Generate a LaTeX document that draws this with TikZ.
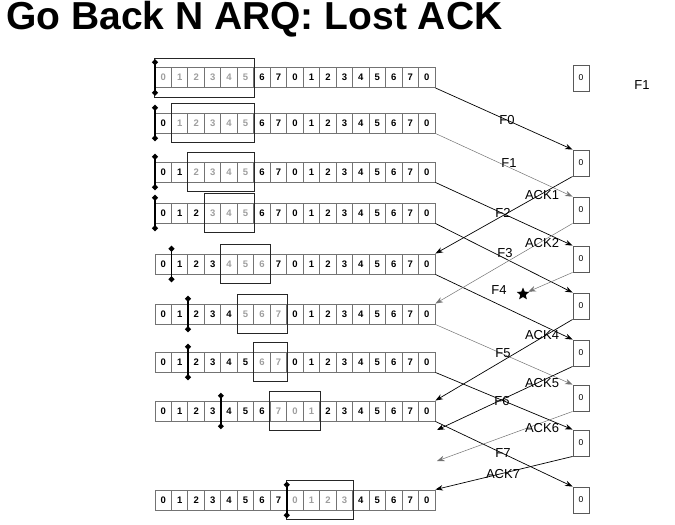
\documentclass[tikz,border=0pt]{standalone}
\usepackage{fontspec}
\setmainfont{Liberation Sans}
\usetikzlibrary{arrows.meta,positioning,shapes.geometric}

\begin{document}
\begin{tikzpicture}[x=1pt, y=-1pt,
  cell/.style={draw=black!55, line width=0.9pt, minimum width=16.47pt, minimum height=20pt, inner sep=0pt, font=\bfseries\fontsize{9.5}{10}\selectfont},
  rbox/.style={draw=black!65, line width=0.9pt, minimum width=16pt, minimum height=26pt, inner sep=0pt, font=\fontsize{8.5}{9}\selectfont},
  win/.style={draw=black!85, line width=0.7pt},
  bar/.style={{Circle[length=5.5pt]}-{Circle[length=5.5pt]}, line width=1.6pt},
  frame/.style={-{Stealth[length=7.5pt,width=5.5pt]}, line width=0.7pt},
  lite/.style={draw=black!55, line width=0.5pt},
  lbl/.style={font=\fontsize{13}{15}\selectfont, inner sep=0pt}
]
  \useasboundingbox (0,0) rectangle (675,525);

  % title
  \node[anchor=west, inner sep=0pt, font=\bfseries\fontsize{39}{41}\selectfont] (title) at (6,19) {Go Back N ARQ: Lost ACK};

  % sender rows: row / y / window from / window to / bar position
  \foreach \r/\y/\lo/\hi/\b in {1/77.5/0/5/0, 2/123/1/5/0, 3/172/2/5/0, 4/213/3/5/0, 5/264/4/6/1, 6/314/5/7/2, 7/362/6/7/2, 8/411/7/9/4, 10/500/8/11/8}{
    \foreach \i in {0,...,16}{
      \pgfmathtruncatemacro\d{mod(\i,8)}
      \def\tc{black}
      \ifnum\i<\lo\else\ifnum\i>\hi\else\def\tc{black!38}\fi\fi
      \node[cell, text=\tc] (r\r-\i) at ({163.24+16.47*\i}, \y) {\d};
    }
    \draw[win] ([yshift=9pt]r\r-\lo.north west) rectangle ([yshift=-9pt]r\r-\hi.south east);
    \coordinate (bar\r) at ({155+16.47*\b}, \y);
    \draw[bar] ([yshift=18pt]bar\r) -- ([yshift=-18pt]bar\r);
  }

  % receiver
  \foreach \k/\y in {1/78, 2/163, 3/210, 4/259, 5/306, 6/353, 7/398, 8/443, 9/500}
    \node[rbox] (s\k) at (581,\y) {0};

  \coordinate (a5end) at (437,430);
  \coordinate (a6end) at (437,461);
  \node[star, star points=5, star point ratio=2.2, fill=black, minimum size=13pt, inner sep=0pt] (lost) at (523,294) {};

  % frames
  \draw[frame] (r1-16.south east) -- (s2.north west);
  \draw[frame, lite] (r2-16.south east) -- (s3.north west);
  \draw[frame] (r3-16.south east) -- (s4.north west);
  \draw[frame] (r4-16.south east) -- (s5.north west);
  \draw[frame] (r5-16.south east) -- (s6.north west);
  \draw[frame, lite] (r6-16.south east) -- (s7.north west);
  \draw[frame] (r7-16.south east) -- (s8.north west);
  \draw[frame] (r8-16.south east) -- (s9.north west);

  % acks
  \draw[frame] (s2.south west) -- (r5-16.north east);
  \draw[frame, lite] (s3.south west) -- (r6-16.north east);
  \draw[frame, lite] (s4.south west) -- (lost);
  \draw[frame] (s5.south west) -- (r8-16.north east);
  \draw[frame] (s6.south west) -- (a5end);
  \draw[frame, lite] (s7.south west) -- (a6end);
  \draw[frame] (s8.south west) -- (r10-16.north east);

  % labels
  \node[lbl] (lf0) at (507,120) {F0};
  \node[lbl] (lf1) at (509,163) {F1};
  \node[lbl] (la1) at (542,195) {ACK1};
  \node[lbl] (lf2) at (503,213) {F2};
  \node[lbl] (la2) at (542,243) {ACK2};
  \node[lbl] (lf3) at (505,253) {F3};
  \node[lbl] (lf4) at (499,290) {F4};
  \node[lbl] (la4) at (542,335) {ACK4};
  \node[lbl] (lf5) at (503,353) {F5};
  \node[lbl] (la5) at (542,383) {ACK5};
  \node[lbl] (lf6) at (502,401) {F6};
  \node[lbl] (la6) at (542,428) {ACK6};
  \node[lbl] (lf7) at (503,453) {F7};
  \node[lbl] (la7) at (503,474) {ACK7};
  \node[lbl] (top) at (642,85) {F1};
\end{tikzpicture}
\end{document}
